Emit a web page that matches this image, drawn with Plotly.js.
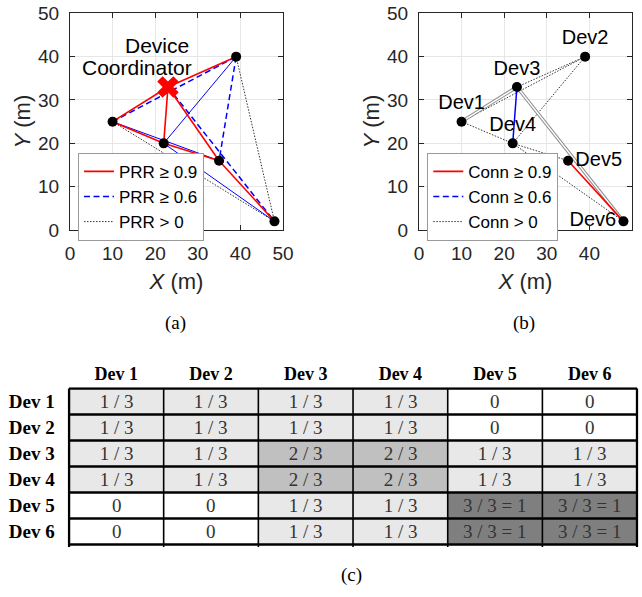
<!DOCTYPE html>
<html>
<head>
<meta charset="utf-8">
<script src="https://cdn.plot.ly/plotly-3.0.1.min.js"></script>
<style>html,body{margin:0;padding:0;background:#fff}#chart{width:642px;height:597px}</style>
</head>
<body>
<div id="chart"></div>
<script>
// ---- data ----
const devX = [10, 39, 23, 22, 35, 48];
const devY = [25, 40, 33, 20, 16, 2];
const devNames = ['Dev1', 'Dev2', 'Dev3', 'Dev4', 'Dev5', 'Dev6'];
const coordIdx = 2;

// (a) PRR links (index pairs)
const prrHigh = [[0,2],[2,1],[2,3],[2,4],[0,3],[3,4],[4,5]];
const prrMid = [[0,1],[1,4],[2,5]];
const prrMidThin = [[3,1],[0,4],[3,5]];
const prrLow = [[0,5],[1,5]];

// (b) Conn links
const connHigh = [[4,5]];
const connMid = [[2,3]];
const connPair = [[0,2],[2,5]];
const connLow = [[0,1],[2,1],[3,1],[0,3],[3,4],[3,5]];

// (c) table
const tableCols = ['Dev 1','Dev 2','Dev 3','Dev 4','Dev 5','Dev 6'];
const tableRows = ['Dev 1','Dev 2','Dev 3','Dev 4','Dev 5','Dev 6'];
const tableCounts = [
  [1,1,1,1,0,0],
  [1,1,1,1,0,0],
  [1,1,2,2,1,1],
  [1,1,2,2,1,1],
  [0,0,1,1,3,3],
  [0,0,1,1,3,3]
];
const countLabels = ['0', '1 / 3', '2 / 3', '3 / 3 = 1'];

// ---- helpers ----
function edgeXY(edges){
  const x = [], y = [];
  edges.forEach(([a,b]) => { x.push(devX[a], devX[b], null); y.push(devY[a], devY[b], null); });
  return {x, y};
}
const sans = 'Liberation Sans, Arial, Helvetica, sans-serif';
const serif = 'Liberation Serif, Times New Roman, serif';
const ink = '#262626';
const dotted = '1.5px,1.5px';
const dashed = '6px,3.5px';

const traces = [];
function lineTrace(edges, xa, ya, color, width, dash, name, legend, show, rank){
  const e = edgeXY(edges);
  return {type:'scatter', mode:'lines', x:e.x, y:e.y, xaxis:xa, yaxis:ya,
    line:{color:color, width:width, dash:dash}, name:name, legend:legend,
    showlegend:show, legendrank:rank, hoverinfo:'skip', connectgaps:false};
}
// (a)
traces.push(lineTrace(prrLow, 'x','y', '#333333', 1, dotted, 'PRR > 0', 'legend', true, 3));
traces.push(lineTrace(prrMidThin, 'x','y', '#0000ff', 1, 'solid', 'thin', 'legend', false, 9));
traces.push(lineTrace(prrMid, 'x','y', '#0000ff', 1.5, dashed, 'PRR ≥ 0.6', 'legend', true, 2));
traces.push(lineTrace(prrHigh, 'x','y', '#ff0000', 1.6, 'solid', 'PRR ≥ 0.9', 'legend', true, 1));
const devIdxA = devX.map((v,i)=>i).filter(i=>i!==coordIdx);
traces.push({type:'scatter', mode:'markers', xaxis:'x', yaxis:'y',
  x: devIdxA.map(i=>devX[i]), y: devIdxA.map(i=>devY[i]),
  marker:{color:'#000', size:10}, showlegend:false, hoverinfo:'skip'});
traces.push({type:'scatter', mode:'markers', xaxis:'x', yaxis:'y',
  x:[devX[coordIdx]], y:[devY[coordIdx]],
  marker:{color:'#ff0000', size:19, symbol:'x'}, showlegend:false, hoverinfo:'skip'});

// (b)
traces.push(lineTrace(connLow, 'x2','y2', '#333333', 1, dotted, 'Conn > 0', 'legend2', true, 3));
traces.push(lineTrace(connPair, 'x2','y2', '#8a8a8a', 3.4, 'solid', 'pair', 'legend2', false, 9));
traces.push(lineTrace(connPair, 'x2','y2', '#ffffff', 1.4, 'solid', 'pair2', 'legend2', false, 9));
traces.push(lineTrace(connMid, 'x2','y2', '#0000ff', 1.5, 'solid', 'mid', 'legend2', false, 9));
traces.push({type:'scatter', mode:'lines', x:[null], y:[null], xaxis:'x2', yaxis:'y2',
  line:{color:'#0000ff', width:1.5, dash:dashed}, name:'Conn ≥ 0.6', legend:'legend2', legendrank:2, showlegend:true});
traces.push(lineTrace(connHigh, 'x2','y2', '#ff0000', 1.6, 'solid', 'Conn ≥ 0.9', 'legend2', true, 1));
const devPos = ['top center','top center','top center','top center','middle right','middle left'];
traces.push({type:'scatter', mode:'markers+text', xaxis:'x2', yaxis:'y2',
  x: devX, y: devY, text: devNames, textposition: devPos,
  textfont:{family:sans, size:20, color:'#000'},
  marker:{color:'#000', size:10}, showlegend:false, hoverinfo:'skip', cliponaxis:false});

// (c) table as heatmap
traces.push({type:'heatmap', xaxis:'x3', yaxis:'y3',
  x: tableCols, y: tableRows, z: tableCounts,
  text: tableCounts.map(r => r.map(c => countLabels[c])),
  texttemplate:'%{text}', textfont:{family:serif, size:19, color:'#333333'},
  zmin:0, zmax:3, showscale:false, hoverinfo:'skip',
  colorscale:[[0,'#ffffff'],[1/6,'#ffffff'],[1/6,'#e8e8e8'],[0.5,'#e8e8e8'],[0.5,'#c0c0c0'],[5/6,'#c0c0c0'],[5/6,'#7f7f7f'],[1,'#7f7f7f']]
});

// ---- layout ----
function scatterAxis(domain, anchor){
  return {domain:domain, anchor:anchor, range:[0,50], dtick:10, tick0:0, autorange:false,
    showgrid:true, gridcolor:'#e6e6e6', gridwidth:1, zeroline:false,
    showline:true, linecolor:ink, linewidth:1, mirror:'ticks',
    ticks:'inside', ticklen:5, tickcolor:ink, ticklabelstandoff:6,
    tickfont:{family:sans, size:19, color:ink}, automargin:false, fixedrange:true};
}
const yDom = [0.6147, 0.9777];
const xa = scatterAxis([0.109, 0.4408], 'y');
xa.title = {text:'<i>X</i> (m)', font:{family:sans, size:22, color:ink}, standoff:10};
const ya = scatterAxis(yDom, 'x');
ya.title = {text:'<i>Y</i> (m)', font:{family:sans, size:22, color:ink}, standoff:1};
const xb = scatterAxis([0.6526, 0.9844], 'y2');
xb.title = {text:'<i>X</i> (m)', font:{family:sans, size:22, color:ink}, standoff:10};
const yb = scatterAxis(yDom, 'x2');
yb.title = {text:'<i>Y</i> (m)', font:{family:sans, size:22, color:ink}, standoff:1};

const shapes = [];
for (let k = 0; k <= 6; k++) {
  const b = k - 0.5;
  shapes.push({type:'line', xref:'x3', yref:'y3', x0:-0.5, x1:5.5, y0:b, y1:b, line:{color:'#000', width:2.5}, layer:'above'});
  const w = (k === 0 || k === 6) ? 2.5 : 1.6;
  shapes.push({type:'line', xref:'x3', yref:'y3', x0:b, x1:b, y0:-0.5, y1:5.6, line:{color:'#000', width:w}, layer:'above'});
}

const legendBase = {bgcolor:'#ffffff', bordercolor:'#9a9a9a', borderwidth:1,
  font:{family:sans, size:17, color:'#000'}, xanchor:'left', yanchor:'top',
  tracegroupgap:0, itemwidth:30, traceorder:'normal'};

const layout = {
  width:642, height:597, margin:{l:0, r:0, t:0, b:0},
  paper_bgcolor:'#ffffff', plot_bgcolor:'#ffffff',
  showlegend:true, hovermode:false,
  xaxis:xa, yaxis:ya, xaxis2:xb, yaxis2:yb,
  xaxis3:{domain:[0.1055, 0.9943], anchor:'y3', side:'top', showgrid:false, zeroline:false,
    showline:false, ticks:'', ticklabelstandoff:3, automargin:false, fixedrange:true,
    tickfont:{family:serif, size:18, color:'#000', weight:'bold'}},
  yaxis3:{domain:[0.0816, 0.3513], anchor:'x3', autorange:'reversed', showgrid:false, zeroline:false,
    showline:false, ticks:'', ticklabelstandoff:12, automargin:false, fixedrange:true,
    tickfont:{family:serif, size:19, color:'#000', weight:'bold'}},
  legend:Object.assign({}, legendBase, {x:0.1215, y:0.744}),
  legend2:Object.assign({}, legendBase, {x:0.6656, y:0.744}),
  shapes:shapes,
  annotations:[
    {xref:'x', yref:'y', x:20.4, y:42.6, text:'Device', showarrow:false, xanchor:'center', yanchor:'middle',
      font:{family:sans, size:21, color:'#000'}},
    {xref:'x', yref:'y', x:15.7, y:37.6, text:'Coordinator', showarrow:false, xanchor:'center', yanchor:'middle',
      font:{family:sans, size:21, color:'#000'}},
    {xref:'paper', yref:'paper', x:176/642, y:1-323/597, text:'(a)', showarrow:false, xanchor:'center', yanchor:'middle',
      font:{family:serif, size:19, color:'#000'}},
    {xref:'paper', yref:'paper', x:524/642, y:1-323/597, text:'(b)', showarrow:false, xanchor:'center', yanchor:'middle',
      font:{family:serif, size:19, color:'#000'}},
    {xref:'paper', yref:'paper', x:352/642, y:1-575/597, text:'(c)', showarrow:false, xanchor:'center', yanchor:'middle',
      font:{family:serif, size:19, color:'#000'}}
  ]
};

Plotly.newPlot('chart', traces, layout, {staticPlot:true, displayModeBar:false});
</script>
</body>
</html>
